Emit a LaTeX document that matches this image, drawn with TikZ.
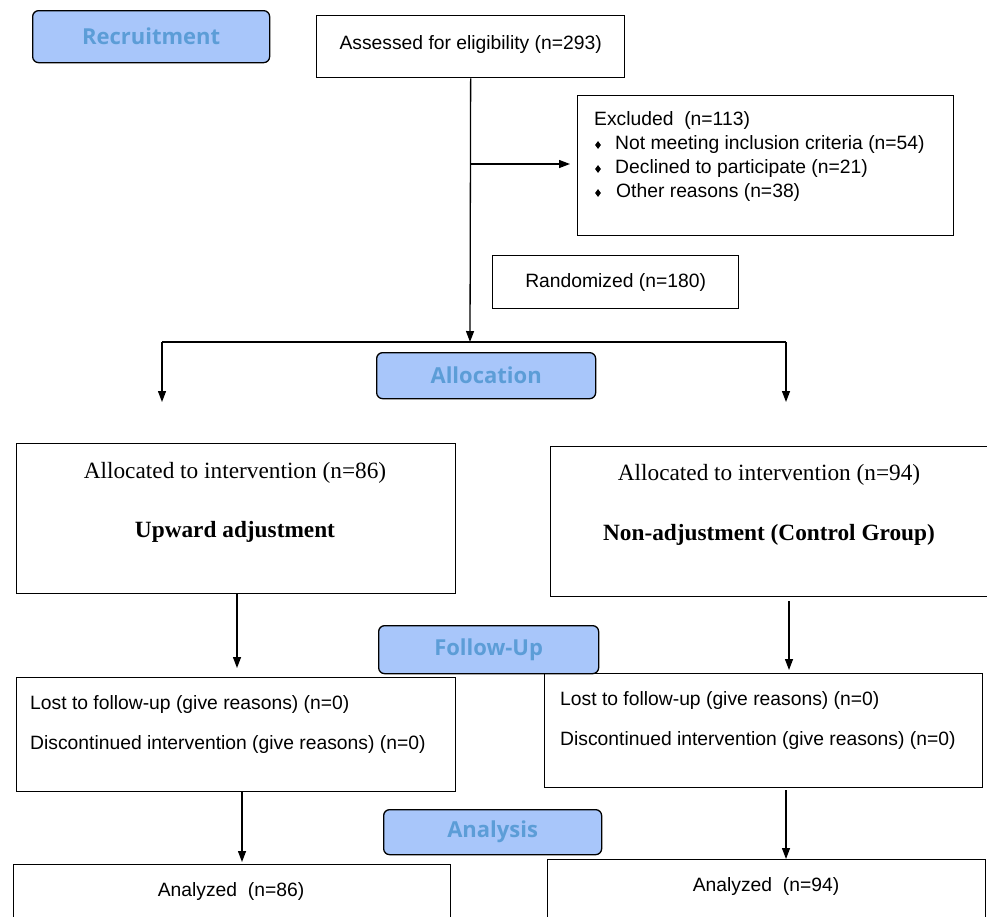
\documentclass[tikz,border=0pt]{standalone}
\usepackage{fontspec}
\setmainfont{Liberation Sans}
\newfontfamily\serifbox{Liberation Serif}
\newfontfamily\phasefont{Open Sans}
\usetikzlibrary{positioning,arrows.meta,shapes.geometric}

\definecolor{phasefill}{RGB}{168,198,250}
\definecolor{phasetext}{RGB}{92,157,215}

\tikzset{
  box/.style={draw, line width=1.3pt, anchor=north west, inner sep=0pt},
  phase/.style={draw, line width=1.3pt, rounded corners=6pt, fill=phasefill, text=phasetext,
    font=\phasefont\bfseries\fontsize{22}{26}\selectfont, anchor=north west, inner sep=0pt},
  arr/.style={-{Triangle[length=11pt,width=8pt]}, line width=1.3pt},
  bul/.style={diamond, fill=black, inner sep=0pt, minimum width=6pt, minimum height=8pt},
  lbl/.style={inner sep=0pt, font=\fontsize{19.3}{23}\selectfont},
  tlbl/.style={inner sep=0pt, font=\serifbox\fontsize{23.3}{28}\selectfont}
}

\begin{document}
\begin{tikzpicture}[x=1pt,y=-1pt]
\useasboundingbox (0,0) rectangle (987,916);
\clip (0,0) rectangle (987,916);

% phase banners
\node[phase, minimum width=237, minimum height=52] (recruit) at (32,10) {\raisebox{-2pt}{Recruitment}};
\node[phase, minimum width=219, minimum height=46] (alloc) at (376,352) {\raisebox{-3pt}{Allocation}};
\node[phase, minimum width=220, minimum height=48] (follow) at (378,625) {\raisebox{-3pt}{Follow-Up}};
\node[phase, minimum width=218, minimum height=45] (analysis) at (383,809) {\raisebox{-3pt}{Analysis}};

% boxes
\node[box, minimum width=308, minimum height=62] (assess) at (316,15) {};
\node[box, minimum width=376, minimum height=140] (excl) at (577,95) {};
\node[box, minimum width=246, minimum height=53] (rand) at (492,255) {};
\node[box, minimum width=439, minimum height=150] (allocL) at (16,443) {};
\node[box, minimum width=450, minimum height=150] (allocR) at (550,446) {};
\node[box, minimum width=439, minimum height=114] (fuL) at (16,677) {};
\node[box, minimum width=438, minimum height=114] (fuR) at (544,673) {};
\node[box, minimum width=437, minimum height=90] (anL) at (13,864) {};
\node[box, minimum width=438, minimum height=90] (anR) at (547,859) {};

% texts
\node[lbl] (assessT) at ([yshift=2pt]assess.center) {Assessed for eligibility (n=293)};
\node[lbl, anchor=west] (exclT) at (594,121) {Excluded~~(n=113)};
\node[bul] (b1) at (598,145) {};
\node[bul] (b2) at (598,169) {};
\node[bul] (b3) at (598,193) {};
\node[lbl, anchor=west] (e1) at (615,145) {Not meeting inclusion criteria (n=54)};
\node[lbl, anchor=west] (e2) at (615,169) {Declined to participate (n=21)};
\node[lbl, anchor=west] (e3) at (616,193) {Other reasons (n=38)};
\node[lbl] (randT) at (rand.center) {Randomized (n=180)};

\node[tlbl] (allocLa) at (235,473) {Allocated to intervention (n=86)};
\node[tlbl, font=\serifbox\bfseries\fontsize{23.3}{28}\selectfont] (allocLb) at (235,532) {Upward adjustment};
\node[tlbl] (allocRa) at (769,475) {Allocated to intervention (n=94)};
\node[tlbl, font=\serifbox\bfseries\fontsize{23.3}{28}\selectfont] (allocRb) at (769,535) {Non-adjustment (Control Group)};

\node[lbl, anchor=west] (fuLa) at (30,704) {Lost to follow-up (give reasons) (n=0)};
\node[lbl, anchor=west] (fuLb) at (30,744) {Discontinued intervention (give reasons) (n=0)};
\node[lbl, anchor=west] (fuRa) at (560,700) {Lost to follow-up (give reasons) (n=0)};
\node[lbl, anchor=west] (fuRb) at (560,740) {Discontinued intervention (give reasons) (n=0)};

\node[lbl] (anLT) at (231,891) {Analyzed~~(n=86)};
\node[lbl] (anRT) at (766,886) {Analyzed~~(n=94)};

% connectors
\coordinate (split) at (470,342);
\coordinate (splitL) at (162,342);
\coordinate (splitR) at (786,342);
\coordinate (exclIn) at (470,164);
\coordinate (colL1) at (237,0);
\coordinate (colR1) at (789,0);
\coordinate (colL2) at (242,0);
\coordinate (colR2) at (786,0);

\draw[arr] (assess.south) -- (split);
\draw[arr] (exclIn) -- ([xshift=-7pt]excl.west |- exclIn);
\draw[line width=1.3pt] (splitL) -- (splitR);
\draw[arr] (splitL) -- ++(0,60);
\draw[arr] (splitR) -- ++(0,60);

\draw[arr] (allocL.south -| colL1) -- ([yshift=9pt]fuL.north -| colL1);
\draw[arr] ([yshift=-4pt]allocR.south -| colR1) -- ([yshift=3pt]fuR.north -| colR1);
\draw[arr] (fuL.south -| colL2) -- ([yshift=2pt]anL.north -| colL2);
\draw[arr] ([yshift=-2pt]fuR.south -| colR2) -- (anR.north -| colR2);

\end{tikzpicture}
\end{document}
